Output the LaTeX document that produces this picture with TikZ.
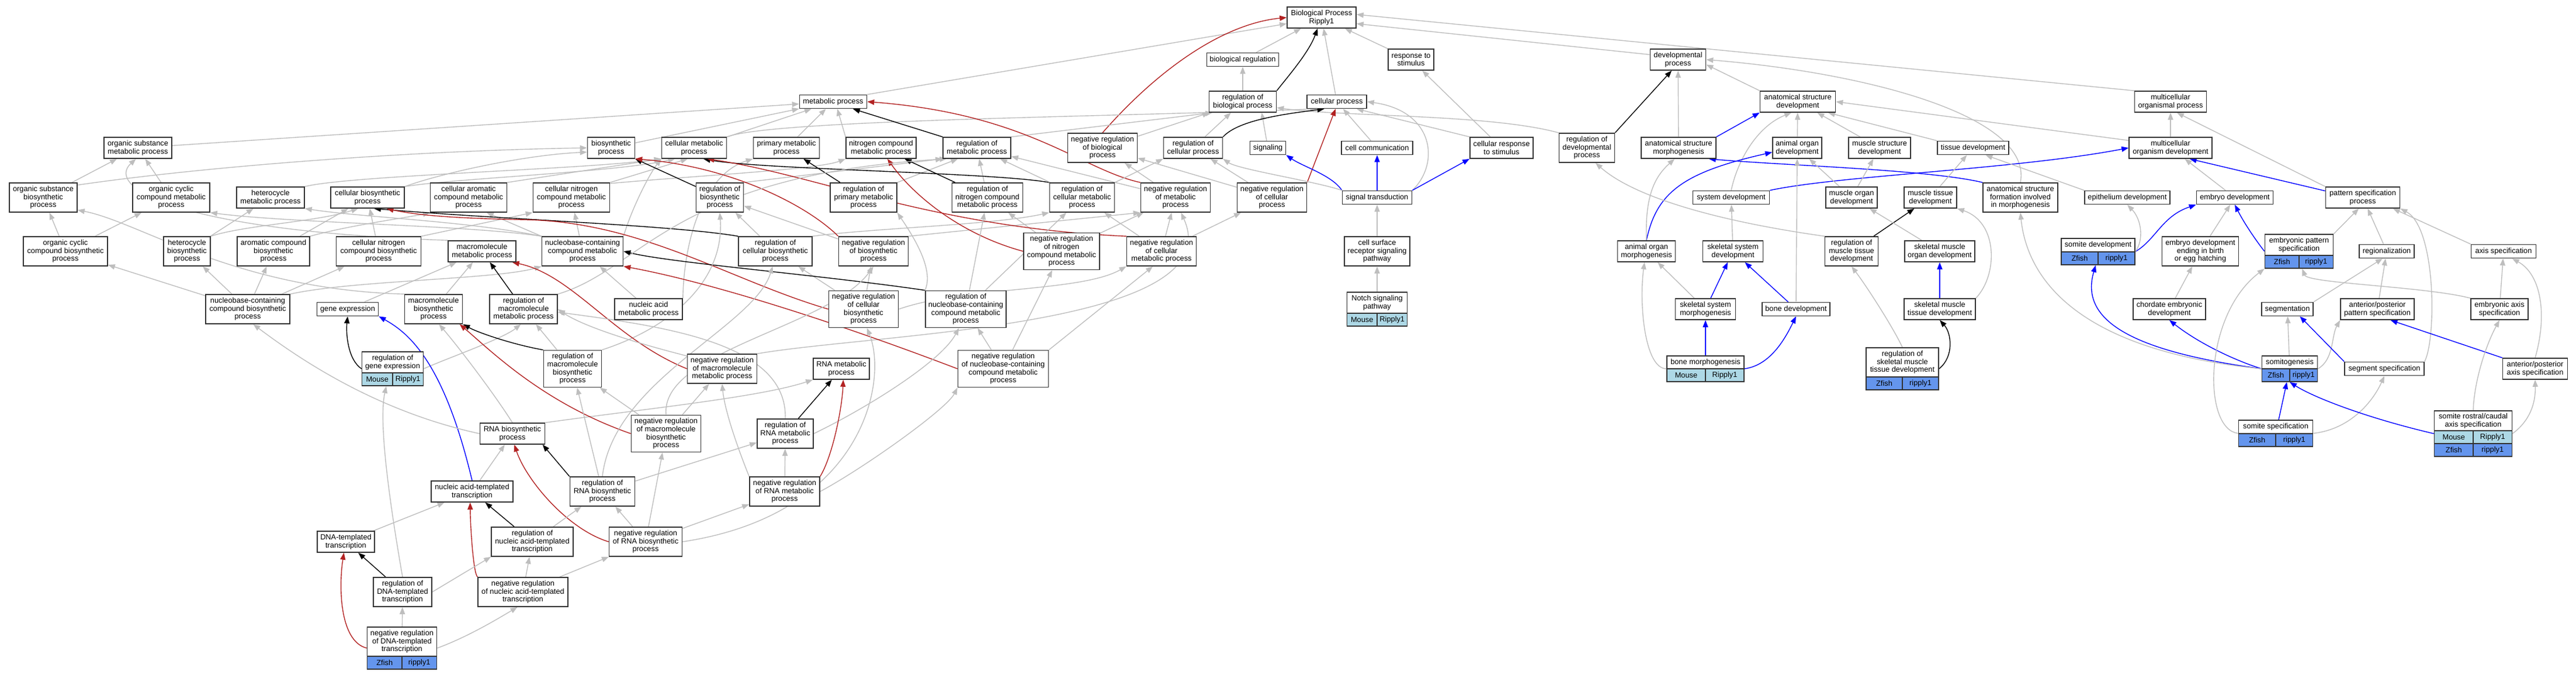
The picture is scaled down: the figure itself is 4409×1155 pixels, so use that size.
\documentclass[tikz,border=0pt]{standalone}
\usepackage{fontspec}
\setmainfont{Liberation Sans}
\usetikzlibrary{arrows.meta,calc}
\pgfdeclarelayer{background}
\pgfsetlayers{background,main}
\definecolor{edgegrey}{HTML}{BEBEBE}
\definecolor{bordc}{HTML}{333333}
\definecolor{negred}{HTML}{B22222}
\definecolor{partblue}{HTML}{0000FF}
\definecolor{mousec}{HTML}{ADD8E6}
\definecolor{fishc}{HTML}{6495ED}
\newcommand\nf{\fontsize{12.8}{13.6}\selectfont}
\tikzset{
 box/.style={draw=bordc, line width=1.6pt, fill=white, align=center, inner sep=0pt, font=\nf},
 txtnode/.style={align=center, inner sep=0pt, font=\nf},
 cell/.style={draw=bordc, line width=1.6pt, inner sep=0pt, minimum height=22, font=\nf},
 h1/.style={minimum height=23}, h2/.style={minimum height=36},
 h3/.style={minimum height=50}, h4/.style={minimum height=63},
 edg/.style={draw=edgegrey, line width=1.4pt, -{Triangle[length=12pt,width=9pt]}},
 ebk/.style={edg, draw=black},
 ered/.style={edg, draw=negred},
 eblu/.style={edg, draw=partblue},
}
% id, cx, top, w, main h, text, colour, left, right
\newcommand\spnode[9]{%
 \node[box, minimum width=#4, minimum height={#5+22}] (#1) at (#2,{#3+(#5+22)/2}) {};
 \node[txtnode, minimum width=#4, minimum height=#5] (#1-t) at (#2,{#3+#5/2}) {#6};
 \node[cell, fill=#7, minimum width={#4/2}] (#1-a) at ({#2-#4/4},{#3+#5+11}) {#8};
 \node[cell, fill=#7, minimum width={#4/2}] (#1-b) at ({#2+#4/4},{#3+#5+11}) {#9};
}
\begin{document}
\begin{tikzpicture}[x=1pt,y=-1pt]
\useasboundingbox (0,0) rectangle (4409,1155);
% ---------- rank 30/102
\node[box,h2,minimum width=118] (bp) at (2262,30) {Biological Process\\Ripply1};
\node[box,h1,minimum width=123] (breg) at (2127,102) {biological regulation};
\node[box,h2,minimum width=78] (rts) at (2415,102) {response to\\stimulus};
\node[box,h2,minimum width=95] (dev) at (2872,102) {developmental\\process};
% ---------- rank 174
\node[box,h1,minimum width=115] (metab) at (1426,174) {metabolic process};
\node[box,h2,minimum width=115] (rbp) at (2127,174) {regulation of\\biological process};
\node[box,h1,minimum width=102] (cp) at (2288,174) {cellular process};
\node[box,h2,minimum width=129] (asd) at (3077,174) {anatomical structure\\development};
\node[box,h2,minimum width=123] (mop) at (3715,174) {multicellular\\organismal process};
% ---------- rank 253
\node[box,h2,minimum width=116] (osmp) at (236,253) {organic substance\\metabolic process};
\node[box,h2,minimum width=81] (bios) at (1046,253) {biosynthetic\\process};
\node[box,h2,minimum width=111] (cmp) at (1188,253) {cellular metabolic\\process};
\node[box,h2,minimum width=113] (pmp) at (1346,253) {primary metabolic\\process};
\node[box,h2,minimum width=120] (ncmp) at (1508,253) {nitrogen compound\\metabolic process};
\node[box,h2,minimum width=116] (rmp) at (1672,253) {regulation of\\metabolic process};
\node[box,h3,minimum width=119] (nrbp) at (1887,253) {negative regulation\\of biological\\process};
\node[box,h2,minimum width=101] (rcp) at (2042,253) {regulation of\\cellular process};
\node[box,h1,minimum width=61] (sig) at (2170,253) {signaling};
\node[box,h1,minimum width=122] (cc) at (2357,253) {cell communication};
\node[box,h2,minimum width=108] (crs) at (2570,253) {cellular response\\to stimulus};
\node[box,h3,minimum width=95] (rdp) at (2716,253) {regulation of\\developmental\\process};
\node[box,h2,minimum width=128] (asm) at (2873,253) {anatomical structure\\morphogenesis};
\node[box,h2,minimum width=84] (aod) at (3076,253) {animal organ\\development};
\node[box,h2,minimum width=106] (msd) at (3217,253) {muscle structure\\development};
\node[box,h1,minimum width=122] (td) at (3377,253) {tissue development};
\node[box,h2,minimum width=142] (mod) at (3715,253) {multicellular\\organism development};
% ---------- rank 338
\node[box,h3,minimum width=116] (osbp) at (74,338) {organic substance\\biosynthetic\\process};
\node[box,h3,minimum width=132] (occmp) at (293,338) {organic cyclic\\compound metabolic\\process};
\node[box,h2,minimum width=116] (hmp) at (463,338) {heterocycle\\metabolic process};
\node[box,h2,minimum width=126] (cbp) at (629,338) {cellular biosynthetic\\process};
\node[box,h3,minimum width=131] (camp) at (802,338) {cellular aromatic\\compound metabolic\\process};
\node[box,h3,minimum width=131] (cncmp) at (978,338) {cellular nitrogen\\compound metabolic\\process};
\node[box,h3,minimum width=81] (rbios) at (1232,338) {regulation of\\biosynthetic\\process};
\node[box,h3,minimum width=114] (rpmp) at (1478,338) {regulation of\\primary metabolic\\process};
\node[box,h3,minimum width=121] (rncmp) at (1690,338) {regulation of\\nitrogen compound\\metabolic process};
\node[box,h3,minimum width=111] (rcmp) at (1852,338) {regulation of\\cellular metabolic\\process};
\node[box,h3,minimum width=119] (nrmp) at (2012,338) {negative regulation\\of metabolic\\process};
\node[box,h3,minimum width=119] (nrcp) at (2177,338) {negative regulation\\of cellular\\process};
\node[box,h1,minimum width=119] (st) at (2357,338) {signal transduction};
\node[box,h1,minimum width=131] (sysd) at (2963,338) {system development};
\node[box,h2,minimum width=88] (mod2) at (3169,338) {muscle organ\\development};
\node[box,h2,minimum width=90] (mtd) at (3304,338) {muscle tissue\\development};
\node[box,h3,minimum width=128] (asfm) at (3458,338) {anatomical structure\\formation involved\\in morphogenesis};
\node[box,h1,minimum width=146] (epd) at (3641,338) {epithelium development};
\node[box,h1,minimum width=131] (ed) at (3825,338) {embryo development};
\node[box,h2,minimum width=127] (psp) at (4044,338) {pattern specification\\process};
% ---------- rank 430
\node[box,h3,minimum width=144] (occbp) at (112,430) {organic cyclic\\compound biosynthetic\\process};
\node[box,h3,minimum width=80] (hbp) at (320,430) {heterocycle\\biosynthetic\\process};
\node[box,h3,minimum width=124] (acbp) at (468,430) {aromatic compound\\biosynthetic\\process};
\node[box,h3,minimum width=145] (cncbp) at (648,430) {cellular nitrogen\\compound biosynthetic\\process};
\node[box,h2,minimum width=116] (mmp) at (825,430) {macromolecule\\metabolic process};
\node[box,h3,minimum width=139] (nccmp) at (997,430) {nucleobase-containing\\compound metabolic\\process};
\node[box,h3,minimum width=126] (rcbp) at (1327,430) {regulation of\\cellular biosynthetic\\process};
\node[box,h3,minimum width=119] (nrbios) at (1495,430) {negative regulation\\of biosynthetic\\process};
\node[box,h4,minimum width=130] (nrncmp) at (1817,430) {negative regulation\\of nitrogen\\compound metabolic\\process};
\node[box,h3,minimum width=119] (nrcmp) at (1988,430) {negative regulation\\of cellular\\metabolic process};
\node[box,h3,minimum width=112] (csrsp) at (2357,430) {cell surface\\receptor signaling\\pathway};
\node[box,h2,minimum width=99] (aom) at (2818,430) {animal organ\\morphogenesis};
\node[box,h2,minimum width=103] (ssd) at (2966,430) {skeletal system\\development};
\node[box,h3,minimum width=91] (rmtd) at (3169,430) {regulation of\\muscle tissue\\development};
\node[box,h2,minimum width=120] (smod) at (3320,430) {skeletal muscle\\organ development};
\spnode{somd}{3591}{408}{126}{23}{somite development}{fishc}{Zfish}{ripply1}
\node[box,h3,minimum width=131] (edb) at (3766,430) {embryo development\\ending in birth\\or egg hatching};
\spnode{eps}{3935}{401}{117}{36}{embryonic pattern\\specification}{fishc}{Zfish}{ripply1}
\node[box,h1,minimum width=94] (reg) at (4085,430) {regionalization};
\node[box,h1,minimum width=111] (axs) at (4285,430) {axis specification};
% ---------- rank 529
\node[box,h3,minimum width=144] (ncbp) at (424,529) {nucleobase-containing\\compound biosynthetic\\process};
\node[box,h1,minimum width=105] (ge) at (595,529) {gene expression};
\node[box,h3,minimum width=99] (mbp) at (742,529) {macromolecule\\biosynthetic\\process};
\node[box,h3,minimum width=116] (rmmp) at (896,529) {regulation of\\macromolecule\\metabolic process};
\node[box,h2,minimum width=116] (nam) at (1110,529) {nucleic acid\\metabolic process};
\node[box,h4,minimum width=119] (nrcbp) at (1478,529) {negative regulation\\of cellular\\biosynthetic\\process};
\node[box,h4,minimum width=138] (rnccmp) at (1653,529) {regulation of\\nucleobase-containing\\compound metabolic\\process};
\spnode{notch}{2357}{500}{103}{36}{Notch signaling\\pathway}{mousec}{Mouse}{Ripply1}
\node[box,h2,minimum width=103] (ssm) at (2919,529) {skeletal system\\morphogenesis};
\node[box,h1,minimum width=116] (bd) at (3074,529) {bone development};
\node[box,h2,minimum width=122] (smtd) at (3320,529) {skeletal muscle\\tissue development};
\node[box,h2,minimum width=124] (ced) at (3713,529) {chordate embryonic\\development};
\node[box,h1,minimum width=88] (seg) at (3915,529) {segmentation};
\node[box,h2,minimum width=126] (apps) at (4069,529) {anterior/posterior\\pattern specification};
\node[box,h2,minimum width=98] (eas) at (4278,529) {embryonic axis\\specification};
% ---------- rank 631
\spnode{rge}{672}{602}{105}{36}{regulation of\\gene expression}{mousec}{Mouse}{Ripply1}
\node[box,h4,minimum width=99] (rmbp) at (980,631) {regulation of\\macromolecule\\biosynthetic\\process};
\node[box,h3,minimum width=119] (nrmmp) at (1236,631) {negative regulation\\of macromolecule\\metabolic process};
\node[box,h2,minimum width=96] (rnamp) at (1440,631) {RNA metabolic\\process};
\node[box,h4,minimum width=155] (nrnccmp) at (1717,631) {negative regulation\\of nucleobase-containing\\compound metabolic\\process};
\spnode{bm}{2919}{609}{132}{22}{bone morphogenesis}{mousec}{Mouse}{Ripply1}
\spnode{rsmtd}{3256}{595}{124}{50}{regulation of\\skeletal muscle\\tissue development}{fishc}{Zfish}{ripply1}
\spnode{somg}{3919}{609}{95}{22}{somitogenesis}{fishc}{Zfish}{ripply1}
\node[box,h1,minimum width=136] (segs) at (4081,631) {segment specification};
\node[box,h2,minimum width=111] (apas) at (4339,631) {anterior/posterior\\axis specification};
% ---------- rank 742
\node[box,h2,minimum width=111] (rnabp) at (877,742) {RNA biosynthetic\\process};
\node[box,h4,minimum width=119] (nrmbp) at (1140,742) {negative regulation\\of macromolecule\\biosynthetic\\process};
\node[box,h3,minimum width=96] (rrnamp) at (1344,742) {regulation of\\RNA metabolic\\process};
\spnode{soms}{3895}{719}{127}{23}{somite specification}{fishc}{Zfish}{ripply1}
\node[box, minimum width=133, minimum height=78] (srcas) at (4233,742) {};
\node[txtnode, minimum width=133, minimum height=34] (srcas-t) at (4233,720) {somite rostral/caudal\\axis specification};
\node[cell, fill=mousec, minimum width=66.5] (srcas-a) at (4199.75,748) {Mouse};
\node[cell, fill=mousec, minimum width=66.5] (srcas-b) at (4266.25,748) {Ripply1};
\node[cell, fill=fishc, minimum width=66.5] (srcas-c) at (4199.75,770) {Zfish};
\node[cell, fill=fishc, minimum width=66.5] (srcas-d) at (4266.25,770) {ripply1};
% ---------- rank 841
\node[box,h2,minimum width=140] (nat) at (808,841) {nucleic acid-templated\\transcription};
\node[box,h3,minimum width=111] (rrnabp) at (1031,841) {regulation of\\RNA biosynthetic\\process};
\node[box,h3,minimum width=120] (nrrnamp) at (1343,841) {negative regulation\\of RNA metabolic\\process};
% ---------- rank 927
\node[box,h2,minimum width=98] (dt) at (592,927) {DNA-templated\\transcription};
\node[box,h3,minimum width=140] (rnat) at (911,927) {regulation of\\nucleic acid-templated\\transcription};
\node[box,h3,minimum width=125] (nrrnabp) at (1105,927) {negative regulation\\of RNA biosynthetic\\process};
% ---------- rank 1013
\node[box,h3,minimum width=100] (rdt) at (689,1013) {regulation of\\DNA-templated\\transcription};
\node[box,h3,minimum width=154] (nrnat) at (895,1013) {negative regulation\\of nucleic acid-templated\\transcription};
\spnode{nrdt}{688}{1073}{119}{50}{negative regulation\\of DNA-templated\\transcription}{fishc}{Zfish}{ripply1}

\begin{pgfonlayer}{background}
\fill[white] (0,0) rectangle (4409,1155);
% ===== top
\draw[edg] (metab.north east) -- (bp.190);
\draw[edg] (breg) -- (bp);
\draw[edg] (cp) -- (bp);
\draw[edg] (rts) -- (bp);
\draw[edg] (dev.170) -- (bp.-10);
\draw[edg] (mop.north west) -- (bp.5);
\draw[ebk] (rbp.north east) .. controls (2205,130) and (2240,90) .. (bp.-110);
\draw[ered] (nrbp.north) .. controls (1990,110) and (2100,40) .. (bp.west);
\draw[edg] (rbp) -- (breg);
\draw[edg] (nrbp) -- (rbp);
\draw[edg] (rmp.north east) -- (rbp.200);
\draw[edg] (rcp) -- (rbp);
\draw[edg] (sig) -- (rbp.-30);
\draw[edg] (rdp.north west) .. controls (2550,195) and (2300,200) .. (rbp.-10);
\draw[edg] (cmp.north east) .. controls (1320,205) and (1900,200) .. (cp.200);
\draw[ebk] (rcp.north east) .. controls (2120,205) and (2200,195) .. (cp.210);
\draw[ered] (nrcp.north east) -- (cp.-100);
\draw[edg] (cc) -- (cp);
\draw[edg] (crs.north west) -- (cp.-20);
\draw[edg] (st.north east) .. controls (2465,280) and (2455,190) .. (cp.east);
\draw[eblu] (st) -- (cc);
\draw[eblu] (st.north east) -- (crs.south west);
\draw[eblu] (st.north west) .. controls (2280,300) and (2230,285) .. (sig.south east);
\draw[edg] (st.north west) .. controls (2250,310) and (2120,290) .. (rcp.south east);
\draw[edg] (crs) -- (rts);
\draw[edg] (csrsp) -- (st);
\draw[edg] (notch) -- (csrsp);
% ===== development
\draw[ebk] (rdp.north east) -- (dev.-120);
\draw[edg] (asm) -- (dev);
\draw[edg] (asd.north west) -- (dev.-10);
\draw[edg] (asfm.north) .. controls (3480,200) and (3200,125) .. (dev.east);
\draw[edg] (aod) -- (asd);
\draw[edg] (msd) -- (asd);
\draw[edg] (td.north west) -- (asd.-20);
\draw[edg] (mod.170) -- (asd.east);
\draw[eblu] (asm.north east) -- (asd.south west);
\draw[edg] (sysd.north) .. controls (2975,270) and (3010,215) .. (asd.-120);
\draw[edg] (mod) -- (mop);
\draw[edg] (psp.north west) -- (mop.-60);
\draw[eblu] (psp.170) -- (mod.-30);
\draw[edg] (ed) -- (mod);
\draw[eblu] (sysd.north east) .. controls (3150,300) and (3450,290) .. (mod.west);
\draw[eblu] (asfm.north west) .. controls (3300,290) and (3050,283) .. (asm.-20);
\draw[eblu] (aom.north) .. controls (2835,330) and (2880,295) .. (aod.190);
\draw[edg] (aom.north) .. controls (2815,330) and (2835,300) .. (asm.-110);
\draw[edg] (mod2) -- (aod);
\draw[edg] (mod2) -- (msd);
\draw[edg] (mtd) -- (td);
\draw[edg] (epd.north west) -- (td.-30);
\draw[edg] (ssd) -- (sysd);
\draw[edg] (ssm) -- (aom);
\draw[eblu] (ssm) -- (ssd);
\draw[eblu] (bd) -- (ssd);
\draw[edg] (bd.north) -- (aod.south);
\draw[eblu] (bm) -- (ssm);
\draw[eblu] (bm.east) .. controls (3030,625) and (3055,580) .. (bd.south);
\draw[edg] (bm.west) .. controls (2815,631) and (2805,520) .. (aom.-100);
\draw[ebk] (rmtd) -- (mtd);
\draw[edg] (rmtd.north west) .. controls (2950,380) and (2800,340) .. (rdp.-60);
\draw[edg] (smod) -- (mod2);
\draw[eblu] (smtd) -- (smod);
\draw[edg] (smtd.north east) .. controls (3420,470) and (3420,380) .. (mtd.south east);
\draw[ebk] (rsmtd.east) .. controls (3345,610) and (3340,570) .. (smtd.south);
\draw[edg] (rsmtd.north) .. controls (3240,560) and (3195,490) .. (rmtd.south);
\draw[edg] (edb) -- (ed);
\draw[eblu] (eps.west) .. controls (3860,410) and (3840,380) .. (ed.south);
\draw[eblu] (somd.east) .. controls (3690,410) and (3700,370) .. (ed.south west);
\draw[edg] (somd.east) .. controls (3670,410) and (3665,375) .. (epd.south);
\draw[edg] (eps.north east) -- (psp.-110);
\draw[edg] (reg) -- (psp);
\draw[edg] (axs.north west) -- (psp.-20);
\draw[edg] (ced) -- (edb);
\draw[edg] (seg.north east) -- (reg.-120);
\draw[edg] (apps) -- (reg);
\draw[edg] (eas) -- (axs);
\draw[edg] (eas.north west) .. controls (4150,490) and (3950,485) .. (eps.-80);
\draw[edg] (somg) -- (seg);
\draw[eblu] (somg.west) .. controls (3820,615) and (3760,585) .. (ced.south);
\draw[edg] (somg.east) .. controls (3995,615) and (3990,575) .. (apps.south west);
\draw[eblu] (somg.west) .. controls (3640,600) and (3560,545) .. (somd.-100);
\draw[edg] (somg.west) .. controls (3560,600) and (3470,480) .. (asfm.south);
\draw[eblu] (segs.north west) -- (seg.-30);
\draw[edg] (segs.north east) .. controls (4170,580) and (4170,390) .. (psp.south east);
\draw[eblu] (apas.north west) -- (apps.-40);
\draw[edg] (apas.north) .. controls (4360,540) and (4350,470) .. (axs.-40);
\draw[eblu] (soms) -- (somg);
\draw[edg] (soms.east) .. controls (4020,735) and (4060,690) .. (segs.south);
\draw[edg] (soms.west) .. controls (3770,735) and (3770,540) .. (eps.south west);
\draw[eblu] (srcas.west) .. controls (4050,715) and (3960,680) .. (somg.south);
\draw[edg] (srcas.north) .. controls (4235,650) and (4255,590) .. (eas.south);
\draw[edg] (srcas.east) .. controls (4330,720) and (4340,690) .. (apas.south);
% ===== metabolism
\draw[edg] (osmp) -- (metab);
\draw[edg] (bios) -- (metab);
\draw[edg] (cmp) -- (metab);
\draw[edg] (pmp) -- (metab);
\draw[edg] (ncmp.north west) -- (metab.-60);
\draw[ebk] (rmp.north west) -- (metab.-20);
\draw[ered] (nrmp.north west) .. controls (1850,290) and (1760,195) .. (metab.east);
\draw[edg] (osbp) -- (osmp);
\draw[edg] (occmp) -- (osmp);
\draw[edg] (osbp.20) .. controls (350,285) and (700,258) .. (bios.west);
\draw[edg] (occbp) -- (osbp);
\draw[edg] (occbp) -- (occmp);
\draw[edg] (hbp) -- (hmp);
\draw[edg] (hbp.north east) .. controls (420,385) and (540,380) .. (cbp.-130);
\draw[edg] (acbp) -- (cbp);
\draw[edg] (acbp.north east) .. controls (600,385) and (700,372) .. (camp.south west);
\draw[edg] (cncbp) -- (cbp);
\draw[edg] (cncbp.north east) -- (cncmp.south west);
\draw[edg] (ncbp) -- (occbp);
\draw[edg] (ncbp) -- (hbp);
\draw[edg] (ncbp) -- (acbp);
\draw[edg] (ncbp) -- (cncbp);
\draw[edg] (ncbp.north east) .. controls (600,480) and (850,478) .. (nccmp.south west);
\draw[edg] (nccmp.north west) .. controls (800,385) and (500,382) .. (occmp.south east);
\draw[edg] (nccmp.north west) .. controls (800,378) and (620,372) .. (hmp.south east);
\draw[edg] (nccmp.north west) -- (camp.-40);
\draw[edg] (nccmp) -- (cncmp);
\draw[edg] (nccmp.north east) .. controls (1080,360) and (1110,300) .. (cmp.south west);
\draw[edg] (camp.north east) -- (cmp.south west);
\draw[edg] (cncmp.north east) -- (cmp.-120);
\draw[edg] (cncmp.20) .. controls (1200,300) and (1400,290) .. (ncmp.south west);
\draw[edg] (hmp.north east) .. controls (600,300) and (1000,290) .. (cmp.south west);
\draw[edg] (cbp.north east) .. controls (760,295) and (900,265) .. (bios.190);
\draw[edg] (cbp.north east) .. controls (780,305) and (1050,295) .. (cmp.-150);
\draw[edg] (mmp.north west) .. controls (300,395) and (180,320) .. (osmp.-100);
\draw[edg] (mbp.north west) .. controls (400,495) and (240,380) .. (osbp.-20);
\draw[edg] (ge) -- (mmp);
\draw[edg] (mbp) -- (mmp);
\draw[ebk] (rmmp) -- (mmp);
\draw[edg] (nam) -- (nccmp);
\draw[edg] (nam.north east) .. controls (1170,420) and (1200,300) .. (pmp.south west);
\draw[ebk] (rbios) -- (bios);
\draw[edg] (rbios.north east) -- (rmp.south west);
\draw[ebk] (rpmp) -- (pmp);
\draw[edg] (rpmp.north east) -- (rmp.-150);
\draw[ebk] (rncmp) -- (ncmp);
\draw[edg] (rncmp) -- (rmp);
\draw[ebk] (rcmp.north west) .. controls (1700,295) and (1300,290) .. (cmp.-50);
\draw[edg] (rcmp) -- (rmp);
\draw[edg] (rcmp.north east) -- (rcp.south west);
\draw[edg] (nrmp) -- (rmp);
\draw[edg] (nrmp) -- (nrbp);
\draw[edg] (nrcp) -- (rcp);
\draw[edg] (nrcp) -- (nrbp);
\draw[edg] (rcbp) -- (rbios);
\draw[edg] (rcbp.north east) .. controls (1500,390) and (1700,385) .. (rcmp.south west);
\draw[ebk] (rcbp.north west) .. controls (1150,385) and (850,375) .. (cbp.-60);
\draw[ered] (nrbios.north west) .. controls (1380,350) and (1250,285) .. (bios.south east);
\draw[edg] (nrbios) -- (rbios);
\draw[edg] (nrbios.north east) -- (nrmp.south west);
\draw[ered] (nrncmp.west) .. controls (1640,400) and (1560,330) .. (ncmp.-60);
\draw[edg] (nrncmp) -- (rncmp);
\draw[edg] (nrncmp) -- (nrmp);
\draw[ered] (nrcmp.north west) .. controls (1600,390) and (1400,300) .. (cmp.-40);
\draw[edg] (nrcmp) -- (rcmp);
\draw[edg] (nrcmp) -- (nrmp);
\draw[edg] (nrcmp) -- (nrcp);
\draw[ered] (nrcbp.west) .. controls (1250,480) and (1100,380) .. (900,376) .. controls (800,374) and (720,370) .. (cbp.-30);
\draw[edg] (nrcbp) -- (rcbp);
\draw[edg] (nrcbp) -- (nrbios);
\draw[edg] (nrcbp.east) .. controls (1650,490) and (1850,500) .. (nrcmp.south west);
\draw[ebk] (rnccmp.north west) .. controls (1400,470) and (1150,450) .. (nccmp.east);
\draw[edg] (rnccmp.north west) .. controls (1600,460) and (1560,400) .. (rpmp.south east);
\draw[edg] (rnccmp) -- (rncmp);
\draw[edg] (rnccmp) -- (rcmp);
\draw[edg] (rmmp.north east) .. controls (1100,460) and (1150,300) .. (rmp.200);
\draw[ebk] (rge.west) .. controls (595,615) and (592,570) .. (ge.south);
\draw[edg] (rge.east) .. controls (760,615) and (860,580) .. (rmmp.-100);
\draw[eblu] (nat.north) .. controls (760,620) and (700,570) .. (ge.south east);
\draw[ebk] (rmbp.north west) .. controls (880,590) and (820,570) .. (mbp.south east);
\draw[edg] (rmbp) -- (rmmp);
\draw[edg] (rmbp.north east) .. controls (1150,560) and (1240,480) .. (rbios.south);
\draw[ered] (nrmmp.west) .. controls (1050,580) and (980,470) .. (mmp.-20);
\draw[edg] (nrmmp.160) .. controls (1100,590) and (1000,560) .. (rmmp.east);
\draw[edg] (nrmmp.north east) .. controls (1500,570) and (2110,560) .. (nrmp.-70);
\draw[ered] (nrnccmp.west) .. controls (1400,540) and (1200,480) .. (nccmp.south east);
\draw[edg] (nrnccmp) -- (rnccmp);
\draw[edg] (nrnccmp.north east) -- (nrcmp.-120);
\draw[edg] (nrnccmp) -- (nrncmp);
\draw[edg] (rnabp.west) .. controls (650,705) and (520,620) .. (ncbp.-70);
\draw[edg] (rnabp.north) .. controls (850,680) and (790,600) .. (mbp.-70);
\draw[edg] (rnabp.north east) .. controls (1100,700) and (1300,680) .. (rnamp.south west);
\draw[ered] (nrmbp.west) .. controls (930,690) and (840,600) .. (mbp.-30);
\draw[edg] (nrmbp) -- (rmbp);
\draw[edg] (nrmbp) -- (nrmmp);
\draw[edg] (nrmbp.north) .. controls (1130,600) and (1420,560) .. (nrbios.south);
\draw[ebk] (rrnamp) -- (rnamp);
\draw[edg] (rrnamp.east) .. controls (1480,700) and (1610,620) .. (rnccmp.-110);
\draw[edg] (rrnamp.north) .. controls (1348,590) and (1150,560) .. (rmmp.-5);
\draw[ebk] (rrnabp.north west) -- (rnabp.-20);
\draw[edg] (rrnabp) -- (rmbp);
\draw[edg] (rrnabp) -- (rrnamp);
\draw[edg] (rrnabp.north) .. controls (1050,650) and (1290,560) .. (rcbp.-100);
\draw[ered] (nrrnamp.north east) .. controls (1425,780) and (1441,700) .. (rnamp.-80);
\draw[edg] (nrrnamp) -- (rrnamp);
\draw[edg] (nrrnamp.north west) .. controls (1260,760) and (1240,700) .. (nrmmp.south);
\draw[edg] (nrrnamp.east) .. controls (1480,800) and (1620,700) .. (nrnccmp.south west);
\draw[edg] (dt) -- (nat);
\draw[ebk] (rnat) -- (nat);
\draw[ered] (nrnat.north west) .. controls (810,980) and (805,900) .. (nat.-100);
\draw[edg] (nat) -- (rnabp);
\draw[ered] (nrrnabp.west) .. controls (970,905) and (900,820) .. (rnabp.-80);
\draw[edg] (rnat) -- (rrnabp);
\draw[edg] (nrrnabp) -- (rrnabp);
\draw[edg] (nrrnabp) -- (nrrnamp);
\draw[edg] (nrrnabp) -- (nrmbp);
\draw[edg] (nrrnabp.east) .. controls (1480,880) and (1520,650) .. (nrcbp.-80);
\draw[ebk] (rdt) -- (dt);
\draw[edg] (rdt.north) .. controls (665,850) and (648,720) .. (rge.-110);
\draw[edg] (rdt.east) -- (rnat.south west);
\draw[edg] (nrnat) -- (rnat);
\draw[edg] (nrnat) -- (nrrnabp);
\draw[edg] (nrdt) -- (rdt);
\draw[ered] (nrdt.west) .. controls (580,1097) and (580,1000) .. (dt.-100);
\draw[edg] (nrdt.east) .. controls (800,1090) and (850,1060) .. (nrnat.-110);
\end{pgfonlayer}
\end{tikzpicture}
\end{document}
